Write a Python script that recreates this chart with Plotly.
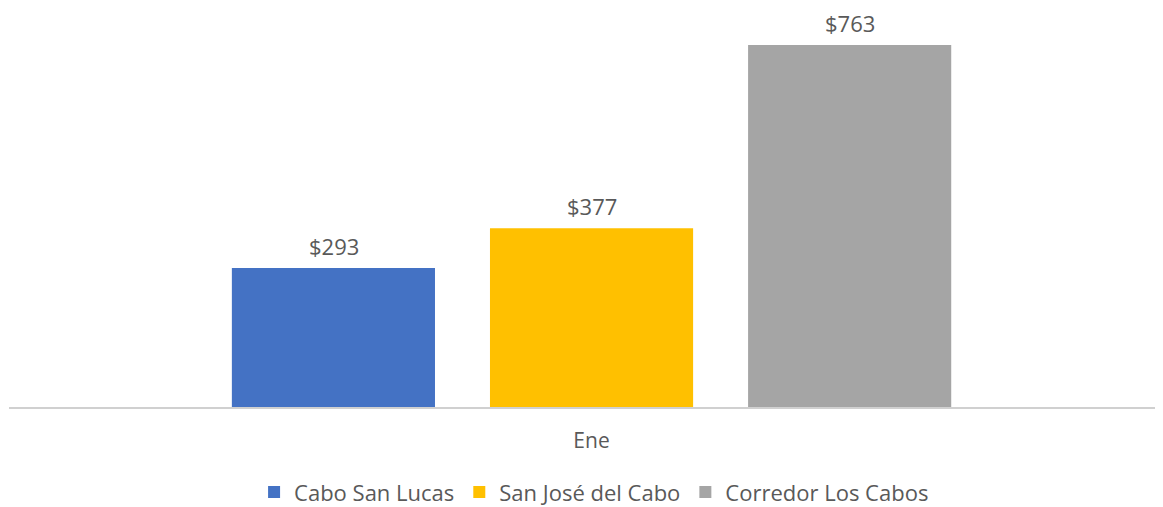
import plotly.graph_objects as go

categories = ["Ene"]
series_names = ["Cabo San Lucas", "San José del Cabo", "Corredor Los Cabos"]
series_values = [[293], [377], [763]]
series_colors = ["#4472C4", "#FFC000", "#A5A5A5"]
value_labels = [["$293"], ["$377"], ["$763"]]

FONT = "Open Sans"
TXT = "#595959"

fig = go.Figure()
for name, vals, col in zip(series_names, series_values, series_colors):
    fig.add_trace(go.Bar(
        x=categories, y=vals, name=name, marker=dict(color=col, line=dict(width=0)),
    ))

# value labels as annotations above each bar
slot_px = 258
n = len(series_names)
for i, (vals, labs) in enumerate(zip(series_values, value_labels)):
    for c, v, t in zip(categories, vals, labs):
        fig.add_annotation(x=c, y=v, text=t, showarrow=False, yanchor="bottom",
                           xshift=(i - (n - 1) / 2) * slot_px, yshift=6, borderpad=0,
                           font=dict(size=22, color=TXT, family=FONT))

# the page has an 8px body margin, so the figure is 8px smaller and shifted
fig.update_layout(
    width=1155, height=499,
    margin=dict(l=1, r=0, t=12, b=100, autoexpand=False),
    plot_bgcolor="white", paper_bgcolor="white",
    barmode="group", bargap=0.329, bargroupgap=0.213,
    font=dict(family=FONT, size=21, color=TXT),
    showlegend=True,
    legend=dict(orientation="h", x=0.507, xanchor="center", y=-0.22, yanchor="middle",
                font=dict(size=22, color=TXT), traceorder="normal"),
    xaxis=dict(type="category", range=[-0.5048, 0.4952], showline=True, linecolor="#D0D0D0",
               linewidth=2, ticks="outside", ticklen=14, tickcolor="rgba(0,0,0,0)",
               tickfont=dict(size=21, color=TXT), showgrid=False, automargin=False),
    yaxis=dict(range=[0, 815.7], visible=False, showgrid=False, zeroline=False, automargin=False),
)

fig.write_html("out.html")
